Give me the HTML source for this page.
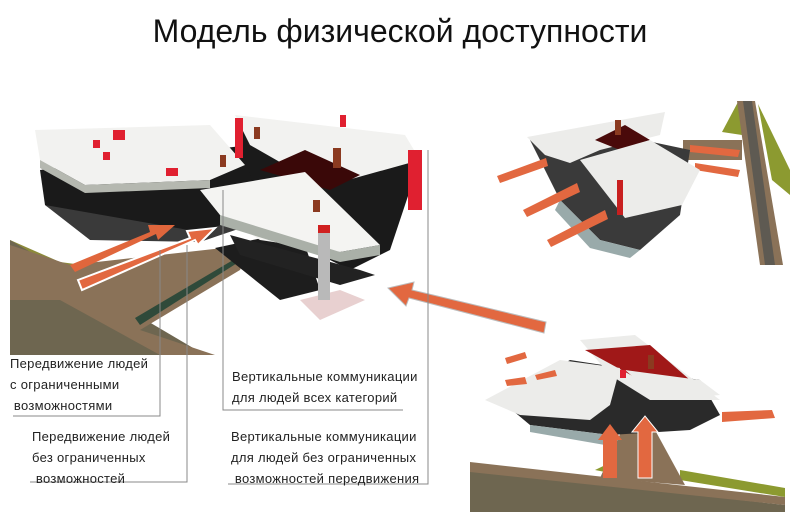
<!DOCTYPE html>
<html><head><meta charset="utf-8"><style>
body{margin:0;background:#fff;width:800px;height:512px;overflow:hidden;position:relative;font-family:"Liberation Sans","DejaVu Sans",sans-serif}
svg{position:absolute;left:0;top:0}
.t{position:absolute;font-size:13px;line-height:21px;color:#222;white-space:nowrap;letter-spacing:0.3px}
h1{position:absolute;left:0;width:800px;top:13px;margin:0;text-align:center;font-weight:normal;font-size:32px;color:#111}
</style></head><body>
<h1>Модель физической доступности</h1>
<svg width="800" height="512" viewBox="0 0 800 512">
<!-- LEFT MAIN -->
<polygon points="10,240 60,262 120,270 215,250 10,355" fill="#8c8a3a"/>
<polygon points="10,240 205,355 10,355" fill="#6e6650"/>
<polygon points="70,265 250,245 240,270 140,330 215,355 160,355 60,300 10,300 10,245" fill="#8a7258"/>
<polygon points="135,318 250,250 245,258 140,325" fill="#2f4a3a"/>
<polygon points="215,248 300,230 320,290 280,300" fill="#1d1d1d"/>
<polygon points="40,170 250,145 260,215 200,232 90,235 45,205" fill="#1a1a1a"/>
<polygon points="45,205 200,232 250,215 250,225 200,242 90,240" fill="#3a3a3a"/>
<polygon points="35,130 210,125 245,165 210,180 85,185 40,160" fill="#f2f2f0"/>
<polygon points="40,160 85,185 210,180 210,188 85,193 40,168" fill="#b5b8b0"/>
<polygon points="235,120 405,140 420,160 390,250 350,270 320,255 260,210" fill="#1a1a1a"/>
<polygon points="235,115 405,135 420,160 330,185 285,165 250,145" fill="#f2f2f0"/>
<polygon points="260,170 305,150 360,175 330,190" fill="#3a0808"/>
<polygon points="200,190 305,172 380,245 340,252 260,240 220,215" fill="#f4f4f2"/>
<polygon points="220,215 340,252 380,245 380,255 340,262 220,225" fill="#aab0a8"/>
<polygon points="230,235 360,270 375,275 340,285 240,255" fill="#222"/>
<polygon points="300,300 340,290 365,300 320,320" fill="#e8d0d0"/>
<rect x="318" y="225" width="12" height="75" fill="#b9b9b9"/>
<rect x="318" y="225" width="12" height="8" fill="#d02020"/>
<rect x="408" y="150" width="14" height="60" fill="#e02030"/>
<rect x="235" y="118" width="8" height="40" fill="#e02030"/>
<rect x="340" y="115" width="6" height="12" fill="#e02030"/>
<rect x="113" y="130" width="12" height="10" fill="#e02030"/>
<rect x="93" y="140" width="7" height="8" fill="#e02030"/>
<rect x="103" y="152" width="7" height="8" fill="#e02030"/>
<rect x="166" y="168" width="12" height="8" fill="#e02030"/>
<rect x="220" y="155" width="6" height="12" fill="#8b3a20"/>
<rect x="254" y="127" width="6" height="12" fill="#8b3a20"/>
<rect x="333" y="148" width="8" height="20" fill="#8b3a20"/>
<rect x="313" y="200" width="7" height="12" fill="#8b3a20"/>
<polygon points="70,265 150,232 148,225 175,225 158,240 156,234 75,272" fill="#e0663c"/>
<polygon points="78,280 190,238 187,231 215,228 198,245 195,240 82,290" fill="#e26840" stroke="#fff" stroke-width="2"/>
<polygon points="546,322 412,290 414,282 388,288 406,306 409,298 544,333" fill="#e26840" stroke="#bbb" stroke-width="1"/>
<g stroke="#888" stroke-width="1" fill="none">
<polyline points="160,250 160,416 13,416"/>
<polyline points="187,245 187,482 30,482"/>
<polyline points="223,190 223,410 403,410"/>
<polyline points="428,150 428,484 228,484"/>
</g>
<!-- TOP RIGHT -->
<polygon points="722,132 738,102 742,135" fill="#8c9a30"/>
<polygon points="758,104 790,170 790,195 772,180" fill="#8c9a30"/>
<polygon points="737,101 755,101 783,265 760,265" fill="#8a7258"/>
<polygon points="743,101 752,101 775,265 765,265" fill="#5e5a52"/>
<polygon points="683,140 742,140 742,160 683,160" fill="#8a7258"/>
<polygon points="690,145 740,150 738,157 690,152" fill="#e26840"/>
<polygon points="695,163 740,170 738,177 695,170" fill="#e26840"/>
<polygon points="530,140 595,130 690,150 680,215 640,250 600,240 560,200" fill="#3a3a3a"/>
<polygon points="560,200 600,240 640,250 630,258 590,248 555,210" fill="#9aa"/>
<polygon points="527,137 665,112 660,135 600,150 570,163 545,155" fill="#ececea"/>
<polygon points="595,140 625,125 650,140 620,150" fill="#4a0a0a"/>
<polygon points="580,160 650,140 700,170 682,205 625,218" fill="#ececea"/>
<polygon points="497,176 546,158 548,166 500,183" fill="#e26840"/>
<polygon points="523,210 577,183 580,192 527,217" fill="#e26840"/>
<polygon points="547,240 605,210 608,219 551,247" fill="#e26840"/>
<rect x="617" y="180" width="6" height="35" fill="#c82020"/>
<rect x="615" y="120" width="6" height="15" fill="#8b3a20"/>
<!-- BOTTOM RIGHT -->
<polygon points="470,470 785,505 785,512 470,512" fill="#6e6650"/>
<polygon points="470,462 785,497 785,505 470,472" fill="#8a7258"/>
<polygon points="595,470 620,458 620,475" fill="#8c9a30"/>
<polygon points="680,470 785,488 785,497 680,480" fill="#8c9a30"/>
<polygon points="622,430 655,430 685,485 600,478" fill="#8a7258"/>
<polygon points="500,400 570,360 700,380 720,415 690,430 610,435 530,425" fill="#2a2a2a"/>
<polygon points="530,425 610,435 605,445 530,432" fill="#9aa"/>
<polygon points="580,340 635,335 720,400 650,400 610,375" fill="#ececea"/>
<polygon points="585,350 650,345 690,380 640,380" fill="#a01818"/>
<polygon points="485,400 560,360 620,368 610,405 590,420 520,415" fill="#ececea"/>
<polygon points="625,370 700,380 720,395 660,400" fill="#ececea"/>
<polygon points="603,478 603,440 598,440 610,424 622,440 617,440 617,478" fill="#e26840"/>
<polygon points="638,478 638,432 632,432 645,416 658,432 652,432 652,478" fill="#e26840" stroke="#fff" stroke-width="1"/>
<polygon points="722,412 772,410 775,418 722,422" fill="#e26840"/>
<polygon points="505,358 525,352 527,358 507,364" fill="#e26840"/>
<polygon points="535,375 555,370 557,376 537,380" fill="#e26840"/>
<polygon points="505,380 525,377 527,384 507,386" fill="#e26840"/>
<rect x="648" y="355" width="6" height="14" fill="#8b3a20"/>
<rect x="620" y="370" width="6" height="8" fill="#e02030"/>
</svg>
<div class="t" style="left:10px;top:353px">Передвижение людей<br>с ограниченными<br>&nbsp;возможностями</div>
<div class="t" style="left:32px;top:426px">Передвижение людей<br>без ограниченных<br>&nbsp;возможностей</div>
<div class="t" style="left:232px;top:366px">Вертикальные коммуникации<br>для людей всех категорий</div>
<div class="t" style="left:231px;top:426px">Вертикальные коммуникации<br>для людей без ограниченных<br>&nbsp;возможностей передвижения</div>
</body></html>
